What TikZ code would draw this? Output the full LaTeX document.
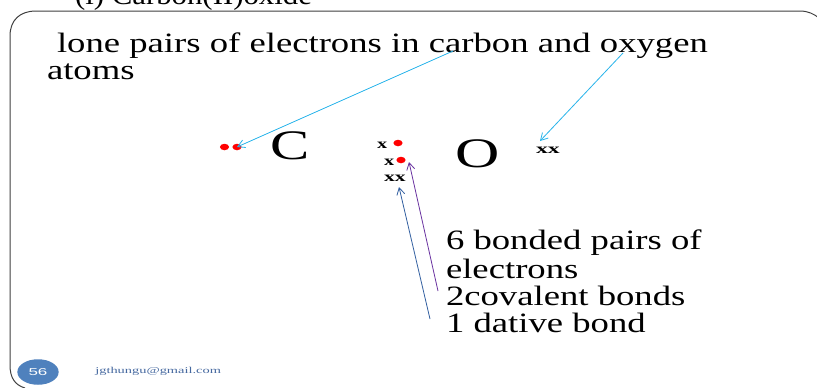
\documentclass[tikz,border=0pt]{standalone}
\usepackage{fontspec}
\setmainfont{Liberation Serif}
\newfontfamily\badgefont{Liberation Sans}
\usetikzlibrary{arrows.meta}
\definecolor{cyanline}{RGB}{40,180,235}
\definecolor{blueline}{RGB}{50,95,160}
\definecolor{purpleline}{RGB}{105,50,160}
\definecolor{badge}{RGB}{79,129,189}
\definecolor{mail}{RGB}{70,105,160}
\tikzset{
  x=1pt,y=-1pt,
  body/.style={inner sep=0pt,outer sep=0pt,anchor=base west,xscale=1.31,font=\fontsize{28}{28}\selectfont},
  atom/.style={inner sep=0pt,outer sep=0pt,anchor=base west,font=\fontsize{42}{42}\selectfont},
  cross/.style={inner sep=0pt,outer sep=0pt,anchor=base west,font=\bfseries\fontsize{14}{14}\selectfont},
  dot/.style={fill=red,draw=none,circle,inner sep=0pt,minimum size=6.5pt,xscale=1.4},
  conn/.style={-{Straight Barb[length=7pt,width=8pt]},line width=0.8pt},
}
\begin{document}
\begin{tikzpicture}
\useasboundingbox (0,0) rectangle (817,388);
\clip (0,0) rectangle (817,388);
\fill[white] (0,0) rectangle (817,388);
% frame
\draw[line width=1pt,black!75] (25,388) .. controls (15,385) and (10,378) .. (10,365) -- (10,36) .. controls (10,20) and (20,11) .. (36,11) -- (800,11) .. controls (808,11) and (814,14) .. (819,18);
% texts
\node[body,xscale=0.84] (title) at (75,5) {(i) Carbon(II)oxide};
\node[body] (lone) at (57,52) {lone pairs of electrons in carbon and oxygen};
\node[body] (atoms) at (47,79) {atoms};
\node[atom,xscale=1.4] (c) at (270,159) {C};
\node[atom,xscale=1.46] (o) at (455,167) {O};
\node[cross,xscale=1.45] (x1) at (377,148) {x};
\node[cross,xscale=1.45] (x2) at (384,165) {x};
\node[cross,xscale=1.55] (x3) at (384,181) {xx};
\node[cross,xscale=1.7] (x4) at (536,153) {xx};
\node[dot] (d1) at (224.5,147) {};
\node[dot] (d2) at (237,147) {};
\node[dot] (d3) at (398,143) {};
\node[dot] (d4) at (401,160) {};
\node[body] (b1) at (446,249) {6 bonded pairs of};
\node[body] (b2) at (446,278) {electrons};
\node[body] (b3) at (446,305) {2covalent bonds};
\node[body] (b4) at (446,332) {1 dative bond};
\node[fill=badge,draw=none,circle,inner sep=0pt,xscale=1.62,minimum size=25.5pt] (badge) at (38,372) {};
\node[text=white,inner sep=0pt,xscale=1.7,font=\badgefont\fontsize{10}{10}\selectfont] (num) at (38,372) {56};
\node[text=mail,inner sep=0pt,anchor=base west,xscale=1.6,font=\fontsize{9}{9}\selectfont] (mail) at (95,373) {jgthungu@gmail.com};
% connectors
\coordinate (s1) at (453,51);
\coordinate (t1) at (237,147);
\coordinate (s2) at (623,53);
\coordinate (t2) at (540,141);
\coordinate (s3) at (430,319);
\coordinate (t3) at (399,187);
\coordinate (s4) at (438,291);
\coordinate (t4) at (409,162);
\draw[conn,cyanline] (s1) -- (t1);
\draw[conn,cyanline] (s2) -- (t2);
\draw[conn,blueline] (s3) -- (t3);
\draw[conn,purpleline] (s4) -- (t4);
\end{tikzpicture}
\end{document}
